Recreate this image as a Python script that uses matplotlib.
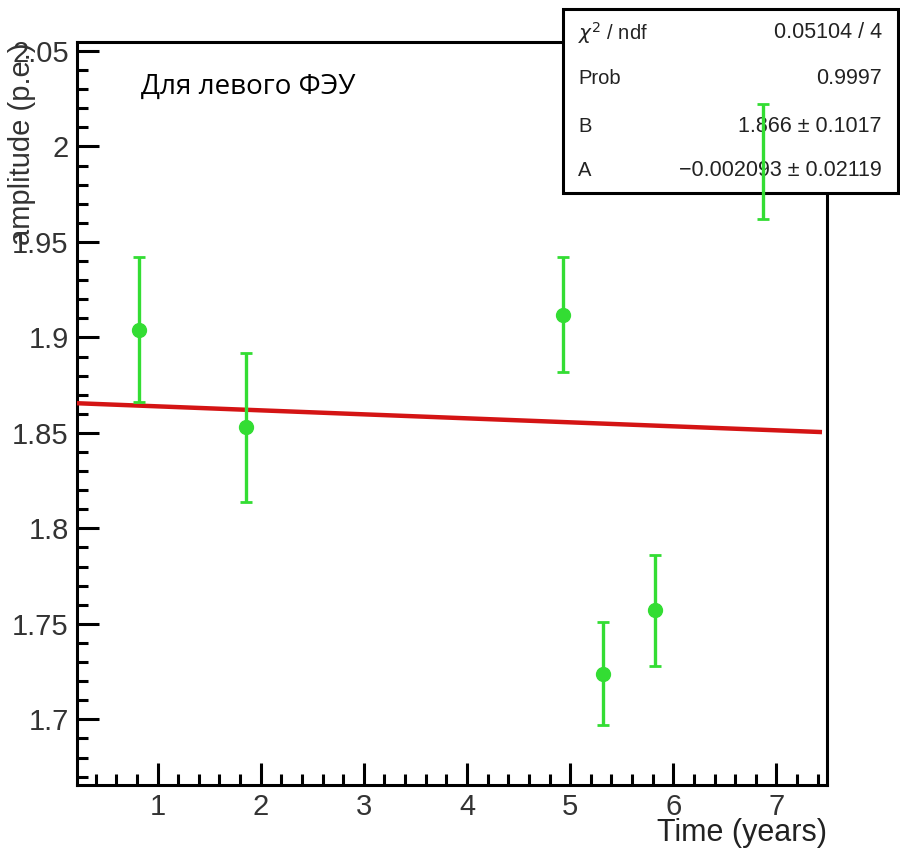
import matplotlib
matplotlib.use("Agg")
import matplotlib.pyplot as plt
from matplotlib.patches import Rectangle
from matplotlib.ticker import MultipleLocator, FuncFormatter
import numpy as np

# measured amplitudes vs time
time_years = [0.82, 1.86, 4.93, 5.32, 5.82, 6.87]
amplitude = [1.904, 1.853, 1.912, 1.724, 1.757, 1.992]
amplitude_err = [0.038, 0.039, 0.030, 0.027, 0.029, 0.030]

# linear fit parameters: y = A * t + B
fit_B = 1.866
fit_A = -0.002093
fit_range = [0.22, 7.42]

stat_names = ["$\\chi^{2}$ / ndf", "Prob", "B", "A"]
stat_values = ["0.05104 / 4", "0.9997", "1.866 \u00b1 0.1017", "\u22120.002093 \u00b1 0.02119"]

plt.rcParams["font.family"] = ["Liberation Sans", "DejaVu Sans"]

fig = plt.figure(figsize=(9, 8.52), dpi=100)
ax = fig.add_axes([0.0856, 0.0786, 0.8333, 0.8721])
ax.set_xlim(0.22, 7.49)
ax.set_ylim(1.6656, 2.0547)

green = "#33dd33"
# error bars and markers
ax.errorbar(time_years, amplitude, yerr=amplitude_err, fmt="none",
            ecolor=green, elinewidth=2.4, capsize=4, capthick=2.0, zorder=7)
ax.plot(time_years, amplitude, "o", color=green, markersize=10, zorder=4)

# fitted line
tx = np.array(fit_range)
ax.plot(tx, fit_A * tx + fit_B, color="#d41414", linewidth=3.2, zorder=3)

# ROOT-like axes: inward ticks on bottom and left only
for s in ax.spines.values():
    s.set_linewidth(2.2)
ax.xaxis.set_major_locator(MultipleLocator(1))
ax.xaxis.set_minor_locator(MultipleLocator(0.2))
ax.yaxis.set_major_locator(MultipleLocator(0.05))
ax.yaxis.set_minor_locator(MultipleLocator(0.01))
ax.tick_params(which="both", direction="in", width=2.2, labelsize=21,
               top=False, right=False, colors="black")
ax.tick_params(which="major", length=16, pad=6)
ax.tick_params(which="minor", length=8)
ax.yaxis.set_major_formatter(FuncFormatter(
    lambda v, p: ("%.2f" % v).rstrip("0").rstrip(".")))
for lab in ax.get_xticklabels() + ax.get_yticklabels():
    lab.set_color("#333333")

ax.set_xlabel("Time (years)", fontsize=22, color="#222222", loc="right")
ax.xaxis.set_label_coords(1.0, -0.045)
ax.xaxis.label.set_va("top")
ax.set_ylabel("amplitude (p.e.)", fontsize=21, color="#333333", loc="top")
ax.yaxis.set_label_coords(-0.073, 1.0)
ax.yaxis.label.set_va("center")

ax.text(0.085, 0.94, "Для левого ФЭУ", transform=ax.transAxes, fontsize=20,
        family=["Open Sans", "DejaVu Sans"], va="center", ha="left", color="black")

# statistics box
bx0, by0 = 563 / 900, 1 - 193 / 852
bw, bh = (898 - 563) / 900, (193 - 9) / 852
ax.add_patch(Rectangle((bx0, by0), bw, bh, transform=fig.transFigure,
                       facecolor="white", edgecolor="black", linewidth=2.2,
                       clip_on=False, zorder=5))
row_y = [33, 79, 126, 170]
for name, val, yy in zip(stat_names, stat_values, row_y):
    ax.text(578 / 900, 1 - yy / 852, name, transform=fig.transFigure, fontsize=14.5,
            ha="left", va="center", color="#222222", zorder=6, clip_on=False)
    ax.text(882 / 900, 1 - yy / 852, val, transform=fig.transFigure, fontsize=15.5,
            ha="right", va="center", color="#222222", zorder=6, clip_on=False)

fig.savefig("out.png", dpi=100, facecolor="white")
